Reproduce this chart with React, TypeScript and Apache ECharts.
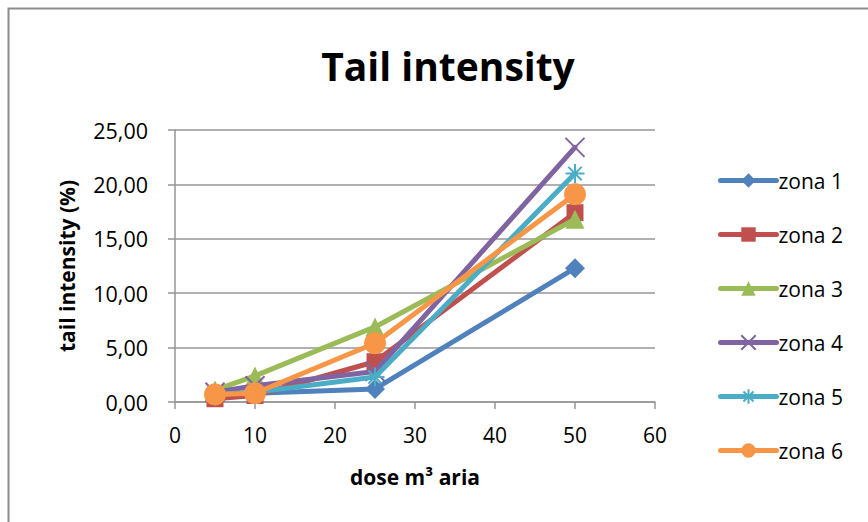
import React, { useEffect, useRef } from "react";
import * as echarts from "echarts";

const doses = [5, 10, 25, 50];
const zona1 = [0.8, 0.8, 1.2, 12.3];
const zona2 = [0.3, 0.6, 3.7, 17.4];
const zona3 = [1.1, 2.4, 6.9, 16.8];
const zona4 = [0.9, 1.5, 2.8, 23.4];
const zona5 = [0.7, 0.9, 2.3, 21.0];
const zona6 = [0.7, 0.8, 5.4, 19.1];

const seriesNames = ["zona 1", "zona 2", "zona 3", "zona 4", "zona 5", "zona 6"];
const seriesValues = [zona1, zona2, zona3, zona4, zona5, zona6];
const colors = ["#4F81BD", "#C0504D", "#9BBB59", "#8064A2", "#4BACC6", "#F79646"];

const X_PATH = "path://M0,0L10,10M10,0L0,10";
const STAR_PATH = "path://M5,0L5,10M0,5L10,5M1.5,1.5L8.5,8.5M8.5,1.5L1.5,8.5";
const symbols = ["diamond", "rect", "triangle", X_PATH, STAR_PATH, "circle"];
const symbolSizes = [20, 17, 19, 19, 19, 22];

const FONT = "'Open Sans', Lato, 'Noto Sans', sans-serif";

export default function App() {
  const ref = useRef<HTMLDivElement>(null);
  useEffect(() => {
    document.body.style.margin = "0";
    const chart = echarts.init(ref.current!, null, { renderer: "svg" });
    const series = seriesNames.map((name, i) => {
      const isStroke = i === 3 || i === 4;
      return {
        name,
        type: "line",
        data: doses.map((d, j) => [d, seriesValues[i][j]]),
        symbol: symbols[i],
        symbolSize: symbolSizes[i],
        lineStyle: { color: colors[i], width: 5, cap: "round" },
        itemStyle: isStroke
          ? { color: "none", borderColor: colors[i], borderWidth: 2 }
          : { color: colors[i], borderColor: colors[i], borderWidth: 0 },
        z: 2 + i,
      };
    });
    chart.setOption({
      animation: false,
      backgroundColor: "#fff",
      textStyle: { fontFamily: FONT },
      title: {
        text: "Tail intensity",
        left: 443,
        top: 41,
        textAlign: "center",
        textStyle: { fontFamily: FONT, fontSize: 39, fontWeight: "bold", color: "#000" },
      },
      graphic: [
        {
          type: "rect",
          shape: { x: 8.5, y: 8.5, width: 1000, height: 1000 },
          style: { fill: "none", stroke: "#8c8c8c", lineWidth: 2 },
          silent: true,
          z: -1,
        },
      ],
      legend: {
        orient: "vertical",
        left: 713,
        top: 165,
        itemWidth: 56,
        itemHeight: 18,
        itemGap: 33,
        lineStyle: { width: 5, cap: "round" },
        textStyle: { fontFamily: FONT, fontSize: 21, color: "#000", padding: [0, 0, 0, -3] },
        data: seriesNames,
      },
      grid: { left: 175, right: 213, top: 130, bottom: 120, containLabel: false },
      xAxis: {
        type: "value",
        min: 0,
        max: 60,
        interval: 10,
        name: "dose m³ aria",
        nameLocation: "middle",
        nameGap: 64,
        nameTextStyle: { fontFamily: FONT, fontSize: 21, fontWeight: "bold", color: "#000" },
        axisLine: { show: true, lineStyle: { color: "#969696", width: 1.5 } },
        axisTick: { show: true, length: 7, lineStyle: { color: "#969696", width: 1.5 } },
        axisLabel: { fontFamily: FONT, fontSize: 21, color: "#000", margin: 22 },
        splitLine: { show: false },
      },
      yAxis: {
        type: "value",
        min: 0,
        max: 25,
        interval: 5,
        name: "tail intensity (%)",
        nameLocation: "middle",
        nameGap: 98,
        nameRotate: 90,
        nameTextStyle: { fontFamily: FONT, fontSize: 21, fontWeight: "bold", color: "#000" },
        axisLine: { show: true, lineStyle: { color: "#969696", width: 1.5 } },
        axisTick: { show: true, length: 7, lineStyle: { color: "#969696", width: 1.5 } },
        axisLabel: {
          fontFamily: FONT,
          fontSize: 21.5,
          color: "#000",
          margin: 27,
          formatter: (v: number) => v.toFixed(2).replace(".", ","),
        },
        splitLine: { show: true, lineStyle: { color: "#969696", width: 1.5 } },
      },
      series,
    });
    return () => chart.dispose();
  }, []);
  return <div ref={ref} style={{ width: 868, height: 522 }} />;
}
